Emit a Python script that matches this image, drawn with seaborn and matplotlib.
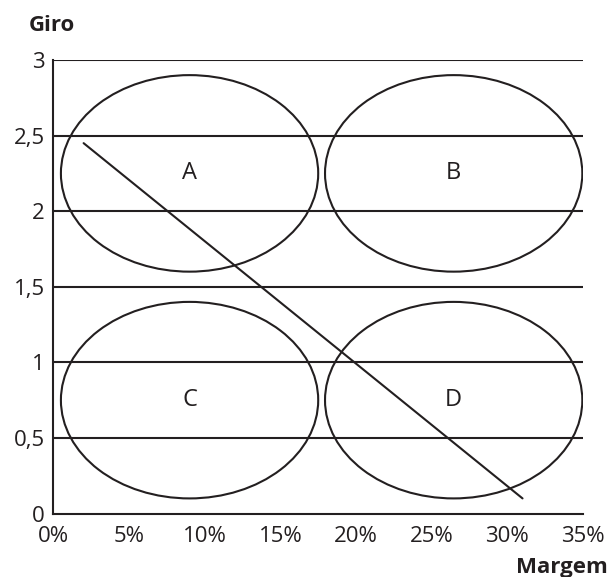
import matplotlib
matplotlib.use("Agg")
import matplotlib.pyplot as plt
from matplotlib.patches import Ellipse
import seaborn as sns
import pandas as pd

# Quadrantes (centro em margem %, giro)
quadrantes = ['A', 'B', 'C', 'D']
margem_centro = [9, 26.45, 9, 26.45]
giro_centro = [2.25, 2.25, 0.75, 0.75]
largura_elipse = 17
altura_elipse = 1.3

# Linha diagonal
linha_margem = [2, 31]
linha_giro = [2.45, 0.1]

x_ticks = [0, 5, 10, 15, 20, 25, 30, 35]
y_ticks = [0, 0.5, 1, 1.5, 2, 2.5, 3]
y_labels = ['0', '0,5', '1', '1,5', '2', '2,5', '3']

cor = '#231f20'

sns.set_style("white")
plt.rcParams['font.family'] = ['Open Sans', 'DejaVu Sans']

fig = plt.figure(figsize=(6.11, 5.77), dpi=100)
ax = fig.add_axes([0.0873, 0.110, 0.867, 0.786])

df_linha = pd.DataFrame({'Margem': linha_margem, 'Giro': linha_giro})
sns.lineplot(data=df_linha, x='Margem', y='Giro', color=cor, linewidth=1.5, ax=ax)

for q, mx, gy in zip(quadrantes, margem_centro, giro_centro):
    ax.add_patch(Ellipse((mx, gy), largura_elipse, altura_elipse,
                         fill=False, edgecolor=cor, linewidth=1.5))
    ax.text(mx, gy, q, ha='center', va='center', fontsize=17, color=cor)

for y in y_ticks[1:]:
    ax.axhline(y, color=cor, linewidth=1.5, zorder=0.5)

ax.set_xlim(0, 35)
ax.set_ylim(0, 3)
ax.set_xticks(x_ticks)
ax.set_xticklabels([f'{v}%' for v in x_ticks])
ax.set_yticks(y_ticks)
ax.set_yticklabels(y_labels)
ax.tick_params(length=0, labelsize=16, colors=cor)
ax.tick_params(axis='x', pad=9)
ax.tick_params(axis='y', pad=6)
ax.set_xlabel('')
ax.set_ylabel('')

for s in ['top', 'right']:
    ax.spines[s].set_visible(False)
for s in ['left', 'bottom']:
    ax.spines[s].set_color(cor)
    ax.spines[s].set_linewidth(1.5)

fig.text(29 / 611, 1 - 31 / 577, 'Giro', fontsize=16, fontweight='bold',
         color=cor, ha='left', va='baseline')
fig.text(608 / 611, 1 - 573 / 577, 'Margem', fontsize=16, fontweight='bold',
         color=cor, ha='right', va='baseline')

fig.savefig('out.png', dpi=100)
